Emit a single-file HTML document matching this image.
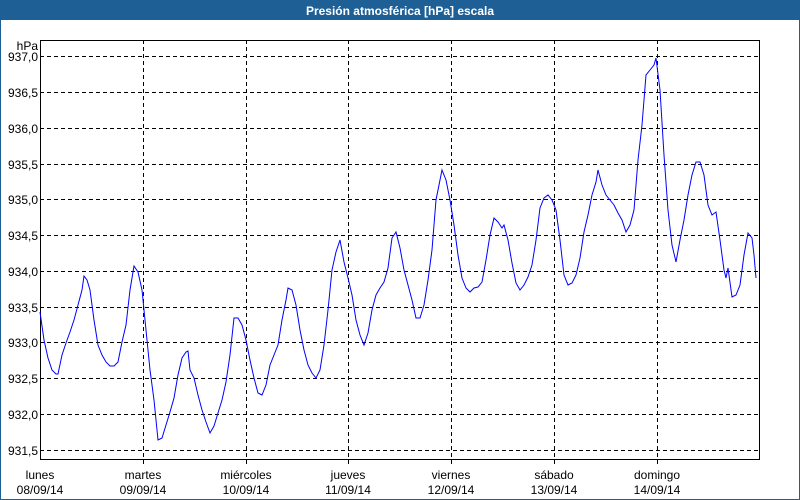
<!DOCTYPE html>
<html><head><meta charset="utf-8"><style>
html,body{margin:0;padding:0;background:#fff}
svg{display:block;font-family:"Liberation Sans",sans-serif}
</style></head><body>
<svg width="800" height="500" viewBox="0 0 800 500" xmlns="http://www.w3.org/2000/svg">
<rect x="0" y="0" width="800" height="500" fill="#fff"/>
<rect x="0.5" y="0.5" width="799" height="499" fill="none" stroke="#1e5f96"/>
<rect x="0" y="0" width="800" height="20" fill="#1e5f96"/>
<text x="400" y="15" text-anchor="middle" font-size="12" font-weight="bold" fill="#fff">Presión atmosférica [hPa] escala</text>
<g stroke="#000" stroke-dasharray="4,3" stroke-width="1">
<line x1="40" x2="760" y1="56.5" y2="56.5"/><line x1="40" x2="760" y1="92.5" y2="92.5"/>
<line x1="40" x2="760" y1="128.5" y2="128.5"/><line x1="40" x2="760" y1="164.5" y2="164.5"/>
<line x1="40" x2="760" y1="199.5" y2="199.5"/><line x1="40" x2="760" y1="235.5" y2="235.5"/>
<line x1="40" x2="760" y1="271.5" y2="271.5"/><line x1="40" x2="760" y1="307.5" y2="307.5"/>
<line x1="40" x2="760" y1="342.5" y2="342.5"/><line x1="40" x2="760" y1="378.5" y2="378.5"/>
<line x1="40" x2="760" y1="414.5" y2="414.5"/><line x1="40" x2="760" y1="450.5" y2="450.5"/>
<line x1="143.5" x2="143.5" y1="40" y2="466"/><line x1="246.5" x2="246.5" y1="40" y2="466"/>
<line x1="348.5" x2="348.5" y1="40" y2="466"/><line x1="451.5" x2="451.5" y1="40" y2="466"/>
<line x1="554.5" x2="554.5" y1="40" y2="466"/><line x1="657.5" x2="657.5" y1="40" y2="466"/>
</g>
<rect x="40.5" y="40.5" width="719" height="419" fill="none" stroke="#000"/>
<g font-size="12" fill="#000" text-anchor="end">
<text x="38" y="50">hPa</text>
<text x="38" y="61">937,0</text><text x="38" y="97">936,5</text><text x="38" y="133">936,0</text>
<text x="38" y="169">935,5</text><text x="38" y="204">935,0</text><text x="38" y="240">934,5</text>
<text x="38" y="276">934,0</text><text x="38" y="312">933,5</text><text x="38" y="347">933,0</text>
<text x="38" y="383">932,5</text><text x="38" y="419">932,0</text><text x="38" y="455">931,5</text>
</g>
<g font-size="12" fill="#000" text-anchor="middle">
<text x="40" y="479">lunes</text><text x="40" y="494">08/09/14</text>
<text x="143" y="479">martes</text><text x="143" y="494">09/09/14</text>
<text x="246" y="479">miércoles</text><text x="246" y="494">10/09/14</text>
<text x="348" y="479">jueves</text><text x="348" y="494">11/09/14</text>
<text x="451" y="479">viernes</text><text x="451" y="494">12/09/14</text>
<text x="554" y="479">sábado</text><text x="554" y="494">13/09/14</text>
<text x="657" y="479">domingo</text><text x="657" y="494">14/09/14</text>
</g>
<polyline fill="none" stroke="#0000ff" stroke-width="1" points="40,312 44,340 48,358 52,370 56,374 58,374 62,355 66,343 70,332 74,320 78,305 82,290 84,276 87,280 90,290 94,320 98,345 102,355 106,362 110,366 114,366 118,362 122,342 126,325 130,290 134,266 138,272 142,290 146,330 150,370 154,400 158,440 162,438 166,425 170,412 174,398 178,375 182,358 186,352 188,351 190,370 194,378 198,395 202,410 206,422 210,433 214,426 218,413 222,400 226,382 230,355 234,318 238,318 242,325 246,340 250,360 254,378 258,393 262,395 266,385 270,365 274,355 278,345 282,320 286,300 288,288 292,290 296,305 300,330 304,350 308,365 312,373 316,378 320,370 324,345 328,310 332,270 336,252 340,240 344,262 348,278 352,295 356,320 360,335 364,345 368,333 372,310 376,295 380,288 384,282 388,268 392,238 396,232 400,248 404,270 408,285 412,300 416,318 420,318 424,305 428,280 432,250 436,200 440,180 442,170 446,180 450,200 454,225 458,255 462,278 466,288 470,292 474,288 478,287 482,282 486,260 490,235 494,218 498,222 502,228 504,225 508,240 512,263 516,283 520,290 524,285 528,277 532,265 536,240 540,208 544,198 548,195 552,200 556,210 560,240 564,275 568,285 572,283 576,275 580,258 584,232 588,215 592,195 596,182 598,170 602,185 606,195 610,200 614,205 618,213 622,220 626,232 630,225 634,210 638,160 642,125 646,75 650,70 654,65 656,58 660,90 664,155 668,210 672,245 676,262 680,240 684,220 688,195 692,175 696,162 700,162 704,175 708,205 712,215 716,212 720,240 724,270 726,278 728,268 732,297 736,295 740,285 744,255 748,233 752,238 754,255 756,278"/>
</svg>
</body></html>
